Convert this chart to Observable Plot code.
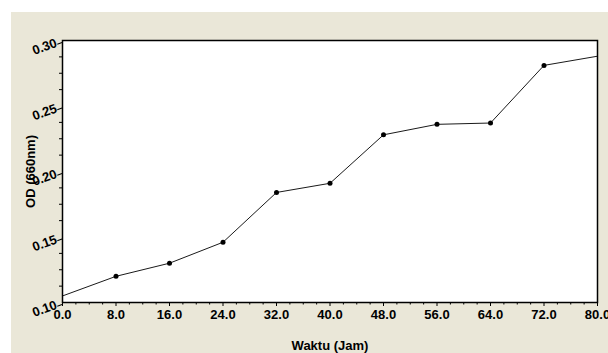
<!DOCTYPE html>
<html>
<head>
<meta charset="utf-8">
<script src="https://cdn.jsdelivr.net/npm/d3@7"></script>
<script src="https://cdn.jsdelivr.net/npm/@observablehq/plot@0.6"></script>
<style>
  html, body { margin: 0; padding: 0; background: #ffffff; }
  #chart { position: absolute; left: 11px; top: 12px; width: 597px; height: 341px; background: #EAE7D8; overflow: hidden; }
  #chart svg text { font-size: 13px; font-weight: bold; font-family: 'Liberation Sans', Arial, sans-serif; fill: #000; }
</style>
</head>
<body>
<div id="chart"></div>
<script>
// Data
const time = [0, 8, 16, 24, 32, 40, 48, 56, 64, 72, 80];
const od   = [0.105, 0.120, 0.130, 0.146, 0.184, 0.191, 0.228, 0.236, 0.237, 0.281, 0.288];

// Axis ticks
const xTicks = [0, 8, 16, 24, 32, 40, 48, 56, 64, 72, 80];
const xTickLabels = ["0.0", "8.0", "16.0", "24.0", "32.0", "40.0", "48.0", "56.0", "64.0", "72.0", "80.0"];
const yTicks = [0.10, 0.15, 0.20, 0.25, 0.30];
const yTickLabels = ["0.10", "0.15", "0.20", "0.25", "0.30"];
const xMinor = d3.range(0, 80.001, 2).filter(v => v % 8 !== 0);
const yMinor = d3.range(0, 17).map(i => 0.10 + i * 0.0125).filter((v, i) => i % 4 !== 0);

const xTitle = "Waktu (Jam)";
const yTitle = "OD (660nm)";

const data = time.map((t, i) => ({t, v: od[i]}));
const marked = data.filter((d, i) => i > 0 && i < data.length - 1);

const chart = Plot.plot({
  width: 597,
  height: 341,
  marginLeft: 51,
  marginTop: 28,
  marginRight: 11,
  marginBottom: 51,
  style: {
    fontFamily: "'Liberation Sans', Arial, sans-serif",
    fontSize: "13px",
    fontWeight: "bold",
    background: "transparent",
    color: "#000",
    overflow: "hidden"
  },
  x: {domain: [0, 80], label: null},
  y: {domain: [0.10, 0.30], label: null},
  marks: [
    Plot.frame({fill: "white", stroke: null}),
    Plot.axisX(xMinor, {anchor: "bottom", tickSize: 2.5, tickFormat: () => "", label: null}),
    Plot.axisX(xTicks, {anchor: "bottom", tickSize: 4, tickPadding: 3, tickFormat: (d) => xTickLabels[xTicks.indexOf(d)], label: null}),
    Plot.axisY(yMinor, {anchor: "left", tickSize: 3, tickFormat: () => "", label: null}),
    Plot.axisY(yTicks, {anchor: "left", tickSize: 5, tickPadding: 1, rotate: -20, textAnchor: "end", dy: 2, tickFormat: d => yTickLabels[yTicks.indexOf(d)], label: null}),
    Plot.line(data, {x: "t", y: "v", stroke: "#1a1a1a", strokeWidth: 1}),
    Plot.dot(marked, {x: "t", y: "v", r: 2.5, fill: "#000", stroke: null}),
    Plot.frame({stroke: "#000", strokeWidth: 1.5}),
    Plot.text([xTitle], {frameAnchor: "bottom", dy: 43, textAnchor: "middle", lineAnchor: "middle"}),
    Plot.text([yTitle], {frameAnchor: "left", dx: -32, rotate: -90, textAnchor: "middle", lineAnchor: "middle"})
  ]
});
document.getElementById("chart").appendChild(chart);
</script>
</body>
</html>
